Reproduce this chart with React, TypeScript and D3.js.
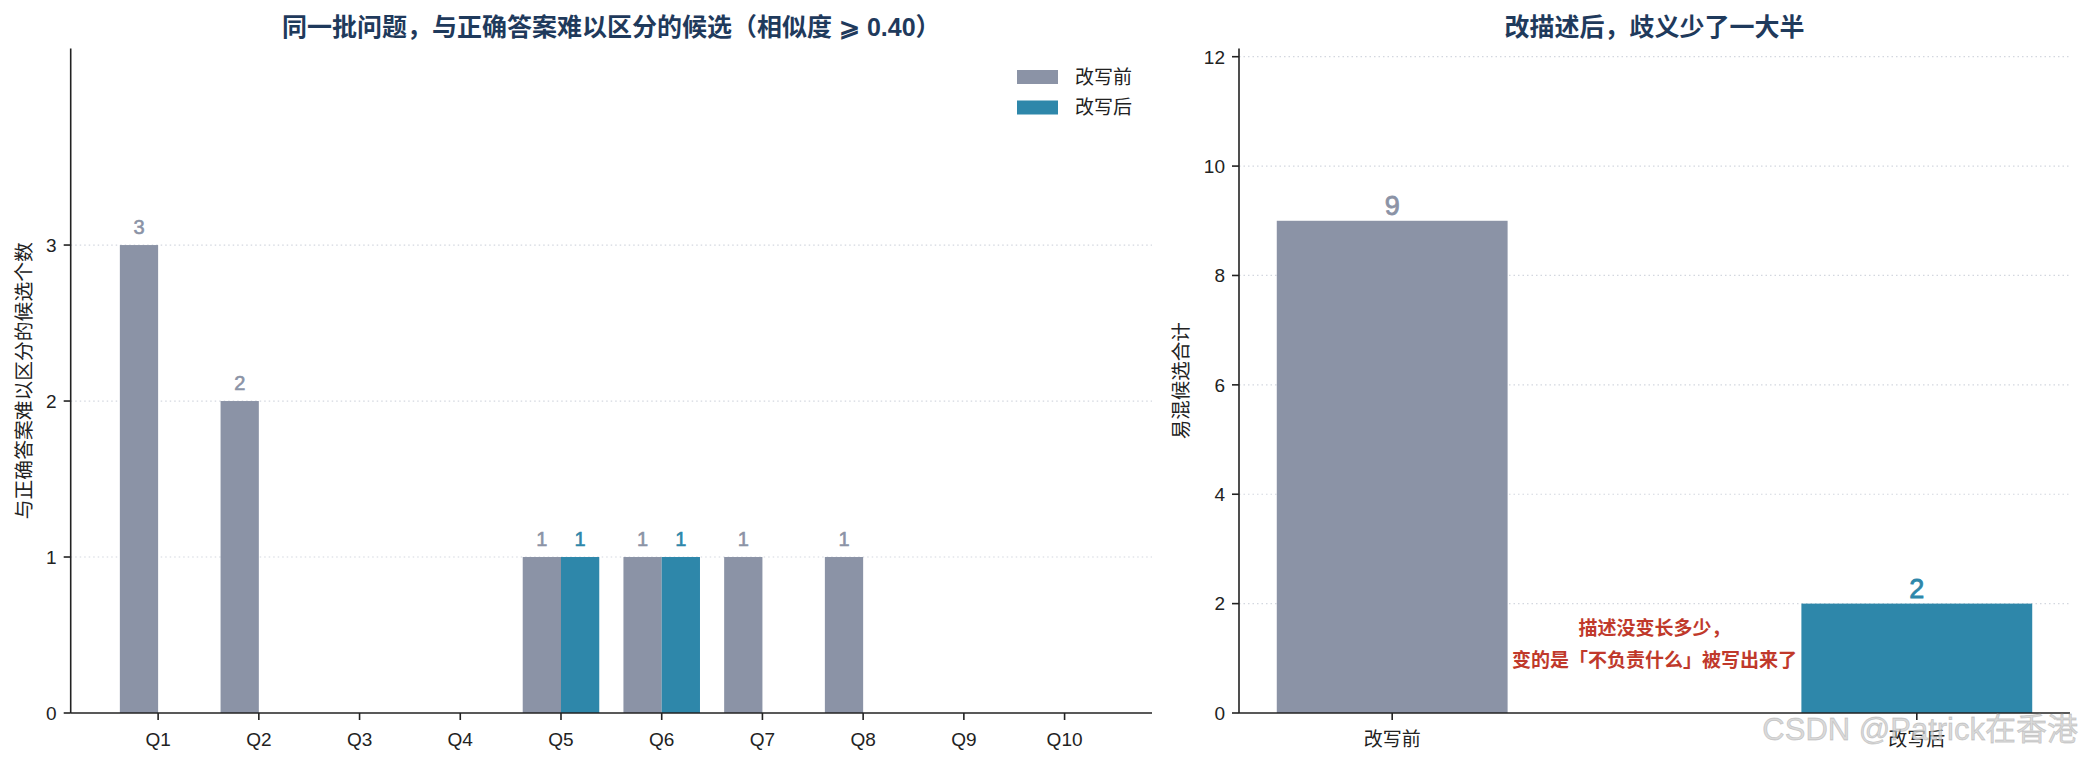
import React from "react";
import * as d3 from "d3";

const questions = ["Q1", "Q2", "Q3", "Q4", "Q5", "Q6", "Q7", "Q8", "Q9", "Q10"];
const beforeCounts = [3, 2, 0, 0, 1, 1, 1, 1, 0, 0];
const afterCounts = [0, 0, 0, 0, 1, 1, 0, 0, 0, 0];
const leftYTicks = [0, 1, 2, 3];

const totalCategories = ["改写前", "改写后"];
const totalValues = [9, 2];
const rightYTicks = [0, 2, 4, 6, 8, 10, 12];

const seriesNames = ["改写前", "改写后"];
const leftTitle = "同一批问题，与正确答案难以区分的候选（相似度 ⩾ 0.40）";
const rightTitle = "改描述后，歧义少了一大半";
const leftYLabel = "与正确答案难以区分的候选个数";
const rightYLabel = "易混候选合计";
const noteLines = ["描述没变长多少，", "变的是「不负责什么」被写出来了"];
const watermark = "CSDN @Patrick在香港";

const GREY = "#8b93a6";
const TEAL = "#2e87aa";
const TITLE = "#1f3a5c";
const RED = "#c0392b";
const INK = "#222222";
const GRID = "#d3d7df";
const FONT = "'Liberation Sans', 'Noto Sans CJK SC', sans-serif";

export default function App() {
  const W = 2086;
  const H = 765;

  const xL = d3.scaleLinear().domain([-0.868, 9.868]).range([70.7, 1152]);
  const yL = d3.scaleLinear().domain([0, 4.26]).range([713, 48.5]);
  const bwL = 0.38;

  const xR = d3.scaleLinear().domain([-0.292, 1.292]).range([1239, 2070]);
  const yR = d3.scaleLinear().domain([0, 12.15]).range([713, 48.5]);
  const bwR = 0.44;

  const tickLen = 7;
  const spineW = 1.6;

  return (
    <svg
      width={W}
      height={H}
      viewBox={`0 0 ${W} ${H}`}
      style={{ position: "absolute", left: 0, top: 0, background: "#fff" }}
      fontFamily={FONT}
    >
      <rect x={0} y={0} width={W} height={H} fill="#fff" />

      {/* ---------- LEFT PANEL ---------- */}
      <text x={(xL.range()[0] + xL.range()[1]) / 2} y={27} textAnchor="middle" dominantBaseline="central"
        fontSize={25} fontWeight={700} fill={TITLE}>{leftTitle}</text>

      {leftYTicks.filter((t) => t > 0).map((t) => (
        <line key={"gl" + t} x1={xL.range()[0]} x2={xL.range()[1]} y1={yL(t)} y2={yL(t)}
          stroke={GRID} strokeWidth={1.2} strokeDasharray="1.5 3" />
      ))}

      {questions.map((q, i) => (
        <g key={"bl" + q}>
          <rect x={xL(i - bwL)} y={yL(beforeCounts[i])} width={xL(i) - xL(i - bwL)}
            height={yL(0) - yL(beforeCounts[i])} fill={GREY} />
          <rect x={xL(i)} y={yL(afterCounts[i])} width={xL(i + bwL) - xL(i)}
            height={yL(0) - yL(afterCounts[i])} fill={TEAL} />
          {beforeCounts[i] > 0 && (
            <text x={xL(i - bwL / 2)} y={yL(beforeCounts[i]) - 11.5} textAnchor="middle"
              fontSize={20} fill={GREY} stroke={GREY} strokeWidth={0.6}>{beforeCounts[i]}</text>
          )}
          {afterCounts[i] > 0 && (
            <text x={xL(i + bwL / 2)} y={yL(afterCounts[i]) - 11.5} textAnchor="middle"
              fontSize={20} fill={TEAL} stroke={TEAL} strokeWidth={0.6}>{afterCounts[i]}</text>
          )}
        </g>
      ))}

      <line x1={xL.range()[0]} x2={xL.range()[0]} y1={yL.range()[1]} y2={yL(0)} stroke={INK} strokeWidth={spineW} />
      <line x1={xL.range()[0]} x2={xL.range()[1]} y1={yL(0)} y2={yL(0)} stroke={INK} strokeWidth={spineW} />
      {leftYTicks.map((t) => (
        <g key={"lyt" + t}>
          <line x1={xL.range()[0] - tickLen} x2={xL.range()[0]} y1={yL(t)} y2={yL(t)} stroke={INK} strokeWidth={spineW} />
          <text x={xL.range()[0] - tickLen - 7} y={yL(t)} dy="0.36em" textAnchor="end" fontSize={19} fill={INK}>{t}</text>
        </g>
      ))}
      {questions.map((q, i) => (
        <g key={"lxt" + q}>
          <line x1={xL(i)} x2={xL(i)} y1={yL(0)} y2={yL(0) + tickLen} stroke={INK} strokeWidth={spineW} />
          <text x={xL(i)} y={746} textAnchor="middle" fontSize={19} fill={INK}>{q}</text>
        </g>
      ))}
      <text transform={`translate(24, ${(yL.range()[0] + yL.range()[1]) / 2}) rotate(-90)`} textAnchor="middle"
        dominantBaseline="central" fontSize={19.8} fill={INK}>{leftYLabel}</text>

      {seriesNames.map((s, i) => (
        <g key={"lg" + s}>
          <rect x={1017} y={70 + i * 30.5} width={41} height={14} fill={i === 0 ? GREY : TEAL} />
          <text x={1075} y={77 + i * 30.5} dominantBaseline="central" fontSize={19} fill={INK}>{s}</text>
        </g>
      ))}

      {/* ---------- RIGHT PANEL ---------- */}
      <text x={(xR.range()[0] + xR.range()[1]) / 2} y={27} textAnchor="middle" dominantBaseline="central"
        fontSize={25} fontWeight={700} fill={TITLE}>{rightTitle}</text>

      {rightYTicks.filter((t) => t > 0).map((t) => (
        <line key={"gr" + t} x1={xR.range()[0]} x2={xR.range()[1]} y1={yR(t)} y2={yR(t)}
          stroke={GRID} strokeWidth={1.2} strokeDasharray="1.5 3" />
      ))}

      {totalCategories.map((c, i) => (
        <g key={"br" + c}>
          <rect x={xR(i - bwR / 2)} y={yR(totalValues[i])} width={xR(i + bwR / 2) - xR(i - bwR / 2)}
            height={yR(0) - yR(totalValues[i])} fill={i === 0 ? GREY : TEAL} />
          <text x={xR(i)} y={yR(totalValues[i]) - 6} textAnchor="middle" fontSize={27}
            fill={i === 0 ? GREY : TEAL} stroke={i === 0 ? GREY : TEAL} strokeWidth={0.8}>{totalValues[i]}</text>
        </g>
      ))}

      {noteLines.map((l, i) => (
        <text key={"note" + i} x={xR(0.5)} y={yR(1.25) + (i - 0.5) * 32} textAnchor="middle" dominantBaseline="central"
          fontSize={19} fontWeight={700} fill={RED}>{l}</text>
      ))}

      <line x1={xR.range()[0]} x2={xR.range()[0]} y1={yR.range()[1]} y2={yR(0)} stroke={INK} strokeWidth={spineW} />
      <line x1={xR.range()[0]} x2={xR.range()[1]} y1={yR(0)} y2={yR(0)} stroke={INK} strokeWidth={spineW} />
      {rightYTicks.map((t) => (
        <g key={"ryt" + t}>
          <line x1={xR.range()[0] - tickLen} x2={xR.range()[0]} y1={yR(t)} y2={yR(t)} stroke={INK} strokeWidth={spineW} />
          <text x={xR.range()[0] - tickLen - 7} y={yR(t)} dy="0.36em" textAnchor="end" fontSize={19} fill={INK}>{t}</text>
        </g>
      ))}
      {totalCategories.map((c, i) => (
        <g key={"rxt" + c}>
          <line x1={xR(i)} x2={xR(i)} y1={yR(0)} y2={yR(0) + tickLen} stroke={INK} strokeWidth={spineW} />
          <text x={xR(i)} y={746} textAnchor="middle" fontSize={19} fill={INK}>{c}</text>
        </g>
      ))}
      <text transform={`translate(1181, ${(yR.range()[0] + yR.range()[1]) / 2}) rotate(-90)`} textAnchor="middle"
        dominantBaseline="central" fontSize={19.5} fill={INK}>{rightYLabel}</text>

      <text x={2078} y={740} textAnchor="end" fontSize={31} fill="rgba(205,205,205,0.75)"
        stroke="rgba(160,160,160,0.45)" strokeWidth={0.8}>{watermark}</text>
    </svg>
  );
}
